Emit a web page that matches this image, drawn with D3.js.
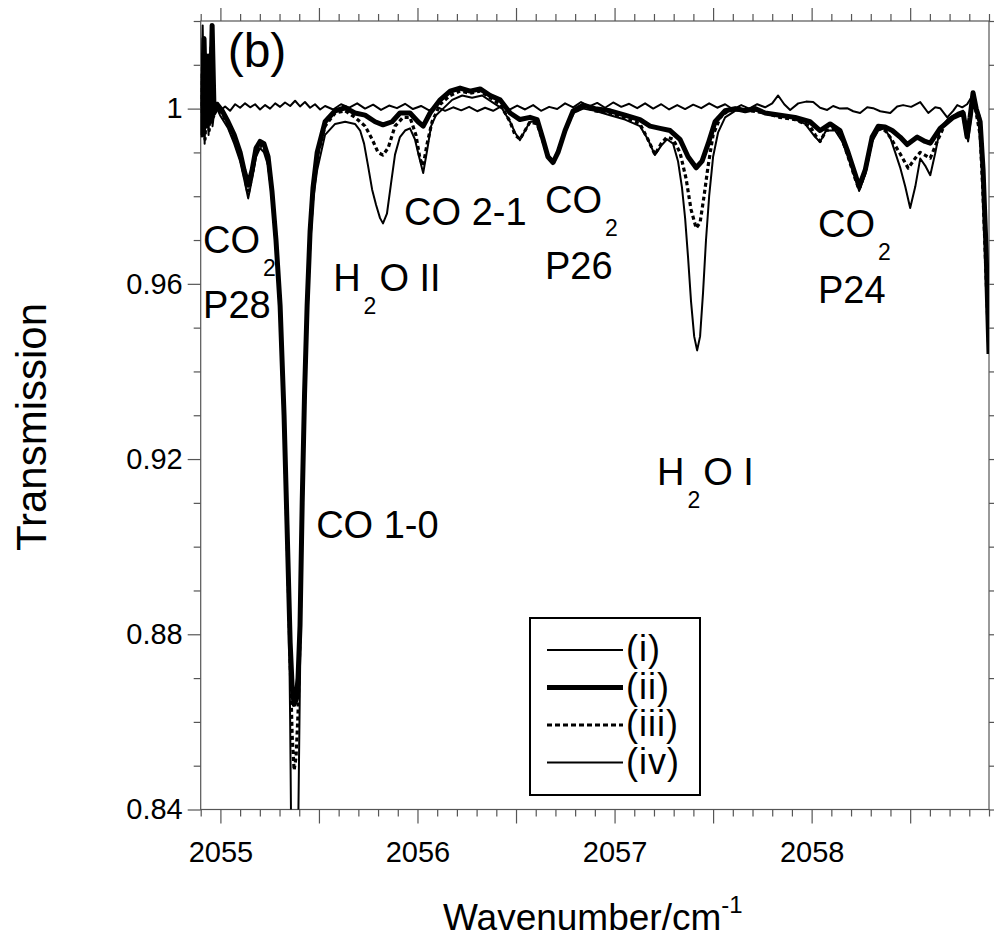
<!DOCTYPE html>
<html>
<head>
<meta charset="utf-8">
<script src="https://cdn.jsdelivr.net/npm/d3@7"></script>
<style>
body { margin: 0; background: #fff; }
text { font-family: "Liberation Sans", Arial, Helvetica, sans-serif; fill: #000; }
</style>
</head>
<body>
<svg id="chart"></svg>
<script>
// [wavenumber / cm-1, transmission]
let curveI = [
  [2054.900, 1.000], [2054.907, 1.010], [2054.914, 0.996], [2054.925, 1.004], [2054.935, 0.997],
  [2054.948, 1.003], [2054.963, 1.000], [2054.978, 1.001], [2054.998, 0.9995], [2055.024, 1.0005],
  [2055.049, 0.9995], [2055.075, 1.001], [2055.100, 1.0002], [2055.125, 1.0012], [2055.151, 1.0003],
  [2055.176, 1.001], [2055.201, 0.9998], [2055.227, 1.0008], [2055.252, 1.0000], [2055.278, 1.0012],
  [2055.303, 1.0004], [2055.328, 1.0014], [2055.354, 1.0006], [2055.379, 1.0018], [2055.404, 1.0005],
  [2055.429, 1.0015], [2055.455, 1.0002], [2055.480, 1.001], [2055.506, 0.9998], [2055.531, 1.0006],
  [2055.572, 0.9998], [2055.612, 1.0010], [2055.654, 1.0002], [2055.694, 1.0012], [2055.734, 1.0000],
  [2055.775, 1.0009], [2055.815, 0.9997], [2055.856, 1.0007], [2055.896, 1.0001], [2055.937, 1.0011],
  [2055.977, 0.9999], [2056.018, 1.0006], [2056.059, 0.9996], [2056.099, 1.0004], [2056.140, 0.9995],
  [2056.181, 1.0003], [2056.222, 0.9996], [2056.262, 1.0004], [2056.303, 0.9994], [2056.343, 1.0002],
  [2056.384, 0.9995], [2056.424, 1.0005], [2056.465, 0.9997], [2056.506, 1.0007], [2056.546, 0.9998],
  [2056.587, 1.0008], [2056.627, 0.9995], [2056.668, 1.0004], [2056.709, 0.9999], [2056.749, 1.0012],
  [2056.790, 1.0003], [2056.830, 1.0015], [2056.871, 1.0005], [2056.912, 1.0013], [2056.952, 1.0002],
  [2056.993, 1.0014], [2057.034, 1.0004], [2057.074, 1.0011], [2057.115, 1.0001], [2057.155, 1.0012],
  [2057.196, 1.0000], [2057.237, 1.0010], [2057.277, 0.9998], [2057.318, 1.0008], [2057.358, 0.9999],
  [2057.399, 1.0009], [2057.440, 1.0001], [2057.480, 1.0012], [2057.521, 1.0002], [2057.561, 1.0010],
  [2057.602, 0.9998], [2057.643, 1.0008], [2057.683, 1.0000], [2057.724, 1.0010], [2057.764, 1.0003],
  [2057.800, 1.0012], [2057.830, 1.0030], [2057.861, 1.0010], [2057.891, 0.9997], [2057.932, 1.0012],
  [2057.972, 1.0016], [2058.008, 1.0015], [2058.043, 1.0002], [2058.079, 0.9997], [2058.109, 1.0006],
  [2058.144, 1.0000], [2058.180, 1.0001], [2058.211, 0.9994], [2058.246, 0.9990], [2058.282, 1.0003],
  [2058.312, 1.0001], [2058.348, 0.9994], [2058.399, 0.9990], [2058.434, 1.0005], [2058.464, 1.0008],
  [2058.505, 1.0004], [2058.551, 1.0015], [2058.592, 0.9990], [2058.627, 1.0003], [2058.652, 1.0001],
  [2058.688, 0.9980], [2058.718, 0.9995], [2058.739, 1.0008], [2058.764, 1.0003], [2058.789, 1.0010],
  [2058.814, 1.0028], [2058.835, 1.0005], [2058.855, 0.998], [2058.870, 0.988], [2058.885, 0.970],
  [2058.900, 0.948]
];

let curveII = [
  [2054.900, 1.008], [2054.907, 0.994], [2054.917, 1.016], [2054.927, 0.996], [2054.938, 1.012],
  [2054.948, 0.997], [2054.958, 1.019], [2054.968, 0.999], [2054.983, 1.001], [2055.009, 0.9995],
  [2055.039, 0.997], [2055.070, 0.994], [2055.100, 0.990], [2055.120, 0.986], [2055.141, 0.9825],
  [2055.161, 0.986], [2055.181, 0.991], [2055.201, 0.9925], [2055.221, 0.992], [2055.242, 0.989],
  [2055.262, 0.981], [2055.282, 0.970], [2055.303, 0.955], [2055.323, 0.930], [2055.338, 0.905],
  [2055.354, 0.878], [2055.364, 0.868], [2055.374, 0.864], [2055.384, 0.865], [2055.394, 0.870],
  [2055.404, 0.882], [2055.415, 0.910], [2055.427, 0.935], [2055.440, 0.955], [2055.455, 0.972],
  [2055.470, 0.982], [2055.491, 0.990], [2055.531, 0.997], [2055.582, 0.9995], [2055.633, 1.0002],
  [2055.683, 0.999], [2055.734, 0.9985], [2055.785, 0.997], [2055.825, 0.9963], [2055.871, 0.997],
  [2055.911, 0.999], [2055.962, 0.999], [2056.003, 0.997], [2056.029, 0.996], [2056.064, 0.999],
  [2056.115, 1.002], [2056.166, 1.004], [2056.216, 1.0047], [2056.267, 1.004], [2056.318, 1.0045],
  [2056.369, 1.003], [2056.419, 1.002], [2056.470, 0.999], [2056.520, 0.9975], [2056.571, 0.998],
  [2056.607, 0.9975], [2056.637, 0.993], [2056.662, 0.989], [2056.688, 0.9877], [2056.713, 0.990],
  [2056.749, 0.995], [2056.790, 0.9995], [2056.841, 1.0008], [2056.901, 1.000], [2056.977, 0.9995],
  [2057.053, 0.9985], [2057.129, 0.9975], [2057.180, 0.996], [2057.231, 0.9955], [2057.282, 0.995],
  [2057.332, 0.993], [2057.373, 0.989], [2057.414, 0.9865], [2057.444, 0.988], [2057.475, 0.992],
  [2057.510, 0.997], [2057.561, 0.9995], [2057.612, 1.000], [2057.663, 0.9995], [2057.713, 1.000],
  [2057.764, 0.999], [2057.840, 0.9985], [2057.916, 0.998], [2057.992, 0.997], [2058.043, 0.995],
  [2058.094, 0.9965], [2058.144, 0.995], [2058.185, 0.990], [2058.221, 0.985], [2058.241, 0.9822],
  [2058.272, 0.986], [2058.307, 0.9935], [2058.338, 0.996], [2058.373, 0.9958], [2058.409, 0.995],
  [2058.449, 0.9935], [2058.485, 0.9918], [2058.536, 0.9935], [2058.576, 0.9925], [2058.602, 0.9921],
  [2058.652, 0.9955], [2058.718, 0.998], [2058.769, 0.999], [2058.789, 0.9935], [2058.804, 0.998],
  [2058.819, 1.0036], [2058.835, 1.000], [2058.855, 0.997], [2058.870, 0.986], [2058.885, 0.968],
  [2058.900, 0.944]
];

let curveIII = [
  [2054.900, 0.999], [2054.912, 1.013], [2054.922, 0.993], [2054.933, 1.006], [2054.943, 0.995],
  [2054.953, 1.010], [2054.963, 0.998], [2054.983, 1.000], [2055.009, 0.999], [2055.039, 0.996],
  [2055.070, 0.993], [2055.100, 0.989], [2055.120, 0.985], [2055.141, 0.9805], [2055.161, 0.985],
  [2055.181, 0.990], [2055.201, 0.9918], [2055.221, 0.991], [2055.242, 0.988], [2055.262, 0.9805],
  [2055.282, 0.9695], [2055.303, 0.9545], [2055.323, 0.929], [2055.338, 0.903], [2055.354, 0.874],
  [2055.364, 0.857], [2055.374, 0.849], [2055.384, 0.852], [2055.394, 0.862], [2055.404, 0.880],
  [2055.415, 0.909], [2055.427, 0.934], [2055.440, 0.954], [2055.455, 0.971], [2055.470, 0.981],
  [2055.491, 0.989], [2055.531, 0.996], [2055.582, 0.999], [2055.633, 0.9995], [2055.683, 0.998],
  [2055.734, 0.996], [2055.770, 0.993], [2055.800, 0.990], [2055.825, 0.9894], [2055.851, 0.991],
  [2055.886, 0.996], [2055.927, 0.998], [2055.962, 0.998], [2055.992, 0.994], [2056.013, 0.9885],
  [2056.029, 0.987], [2056.049, 0.992], [2056.074, 0.997], [2056.115, 1.001], [2056.166, 1.003],
  [2056.216, 1.004], [2056.267, 1.0035], [2056.318, 1.004], [2056.369, 1.0025], [2056.419, 1.001],
  [2056.470, 0.997], [2056.495, 0.994], [2056.520, 0.993], [2056.546, 0.995], [2056.571, 0.997],
  [2056.607, 0.9965], [2056.637, 0.9925], [2056.662, 0.989], [2056.688, 0.9875], [2056.713, 0.990],
  [2056.749, 0.995], [2056.790, 0.999], [2056.841, 1.0005], [2056.901, 0.9995], [2056.977, 0.999],
  [2057.053, 0.998], [2057.129, 0.9965], [2057.169, 0.993], [2057.205, 0.9895], [2057.236, 0.992],
  [2057.266, 0.9935], [2057.297, 0.993], [2057.332, 0.990], [2057.363, 0.984], [2057.388, 0.977],
  [2057.414, 0.9727], [2057.434, 0.974], [2057.454, 0.980], [2057.475, 0.987], [2057.500, 0.994],
  [2057.536, 0.998], [2057.576, 0.9995], [2057.627, 1.000], [2057.688, 0.9995], [2057.764, 0.999],
  [2057.840, 0.998], [2057.916, 0.9975], [2057.992, 0.996], [2058.018, 0.994], [2058.043, 0.9925],
  [2058.073, 0.995], [2058.119, 0.9955], [2058.155, 0.993], [2058.185, 0.989], [2058.221, 0.984],
  [2058.241, 0.9815], [2058.272, 0.9855], [2058.307, 0.993], [2058.338, 0.9955], [2058.373, 0.995],
  [2058.398, 0.9935], [2058.449, 0.9897], [2058.490, 0.9864], [2058.526, 0.9887], [2058.551, 0.990],
  [2058.602, 0.9887], [2058.637, 0.9925], [2058.678, 0.9966], [2058.739, 0.9985], [2058.769, 0.9985],
  [2058.789, 0.993], [2058.804, 0.998], [2058.819, 1.003], [2058.835, 0.999], [2058.855, 0.994],
  [2058.870, 0.980], [2058.885, 0.962], [2058.900, 0.944]
];

let curveIV = [
  [2054.900, 0.994], [2054.910, 1.019], [2054.920, 0.992], [2054.930, 1.009], [2054.940, 0.994],
  [2054.950, 1.014], [2054.960, 0.996], [2054.973, 1.001], [2054.998, 0.9985], [2055.039, 0.9955],
  [2055.070, 0.992], [2055.100, 0.988], [2055.120, 0.984], [2055.141, 0.9795], [2055.161, 0.984],
  [2055.181, 0.989], [2055.201, 0.991], [2055.221, 0.990], [2055.242, 0.987], [2055.262, 0.980],
  [2055.282, 0.969], [2055.303, 0.954], [2055.318, 0.937], [2055.337, 0.910], [2055.346, 0.890],
  [2055.354, 0.860], [2055.361, 0.825], [2055.376, 0.800], [2055.392, 0.825], [2055.399, 0.852],
  [2055.407, 0.882], [2055.415, 0.910], [2055.427, 0.935], [2055.440, 0.954], [2055.455, 0.968],
  [2055.470, 0.979], [2055.491, 0.986], [2055.531, 0.994], [2055.582, 0.9965], [2055.633, 0.997],
  [2055.683, 0.9965], [2055.709, 0.995], [2055.729, 0.992], [2055.749, 0.987], [2055.770, 0.9815],
  [2055.790, 0.978], [2055.810, 0.975], [2055.825, 0.9738], [2055.845, 0.976], [2055.866, 0.983],
  [2055.886, 0.9895], [2055.911, 0.9935], [2055.937, 0.995], [2055.962, 0.9955], [2055.987, 0.993],
  [2056.008, 0.989], [2056.029, 0.9853], [2056.049, 0.9905], [2056.069, 0.996], [2056.094, 0.9985],
  [2056.130, 1.000], [2056.176, 1.002], [2056.227, 1.003], [2056.277, 1.0025], [2056.328, 1.003],
  [2056.379, 1.0015], [2056.430, 1.000], [2056.470, 0.997], [2056.495, 0.9945], [2056.520, 0.9928],
  [2056.546, 0.995], [2056.571, 0.997], [2056.607, 0.997], [2056.637, 0.993], [2056.662, 0.9895],
  [2056.688, 0.988], [2056.713, 0.9905], [2056.749, 0.995], [2056.790, 0.999], [2056.841, 1.000],
  [2056.901, 0.9995], [2056.977, 0.9985], [2057.053, 0.9975], [2057.129, 0.996], [2057.169, 0.993],
  [2057.205, 0.9894], [2057.236, 0.9915], [2057.266, 0.993], [2057.297, 0.992], [2057.322, 0.988],
  [2057.342, 0.982], [2057.358, 0.975], [2057.373, 0.966], [2057.388, 0.956], [2057.404, 0.948],
  [2057.419, 0.9448], [2057.434, 0.948], [2057.449, 0.958], [2057.464, 0.970], [2057.480, 0.980],
  [2057.500, 0.989], [2057.525, 0.9945], [2057.561, 0.998], [2057.612, 0.9995], [2057.678, 0.9995],
  [2057.739, 0.9995], [2057.815, 0.9985], [2057.891, 0.998], [2057.967, 0.9965], [2058.018, 0.9935],
  [2058.043, 0.9924], [2058.073, 0.995], [2058.119, 0.995], [2058.155, 0.9925], [2058.185, 0.989],
  [2058.221, 0.9845], [2058.241, 0.9812], [2058.272, 0.985], [2058.307, 0.9925], [2058.338, 0.995],
  [2058.368, 0.9955], [2058.398, 0.9935], [2058.424, 0.990], [2058.449, 0.9866], [2058.475, 0.9822],
  [2058.500, 0.9773], [2058.526, 0.9822], [2058.551, 0.9886], [2058.576, 0.987], [2058.602, 0.9848],
  [2058.627, 0.9898], [2058.652, 0.9955], [2058.693, 0.9977], [2058.739, 0.999], [2058.769, 0.9995],
  [2058.784, 0.996], [2058.794, 0.9925], [2058.809, 0.998], [2058.819, 1.002], [2058.835, 1.000],
  [2058.855, 0.996], [2058.870, 0.983], [2058.885, 0.965], [2058.900, 0.946]
];

let legendNames = ["(i)", "(ii)", "(iii)", "(iv)"];
let xTickLabels = [2055, 2056, 2057, 2058];
let yTickLabels = [0.84, 0.88, 0.92, 0.96, 1];

function drawChart() {
  let w = 994, h = 944;
  let left = 200.7, right = 989, top = 21, bottom = 809.5;

  let svg = d3.select("#chart")
    .attr("width", w)
    .attr("height", h);

  let x = d3.scaleLinear().domain([2054.9, 2058.9]).range([left, right]);
  let y = d3.scaleLinear().domain([0.84, 1.02]).range([bottom, top]);

  // tick positions
  let xMajor = d3.range(2055, 2058.91, 0.5);
  let xMinor = d3.range(2054.9, 2058.91, 0.1).filter(v => Math.abs(v * 2 - Math.round(v * 2)) > 0.01);
  let yMinor = d3.range(0.84, 1.0201, 0.01).filter(v => !yTickLabels.some(t => Math.abs(t - v) < 1e-6));

  let fmtX = d => xTickLabels.includes(Math.round(d * 10) / 10) ? d3.format("d")(d) : "";
  let fmtY = d => d === 1 ? "1" : d.toFixed(2);

  function axisGroup(axis, tx, ty) {
    let g = svg.append("g").attr("transform", `translate(${tx},${ty})`).call(axis);
    g.select(".domain").remove();
    g.selectAll("line").attr("stroke", "#555").attr("stroke-width", 1.2);
    return g;
  }

  // bottom
  axisGroup(d3.axisBottom(x).tickValues(xMinor).tickSize(7).tickFormat(""), 0, bottom);
  let bx = axisGroup(d3.axisBottom(x).tickValues(xMajor).tickSize(14).tickFormat(fmtX).tickPadding(18), 0, bottom);
  bx.selectAll("text").attr("font-size", 29).attr("font-family", "Liberation Sans, Arial, sans-serif").attr("fill", "#000");
  // top
  axisGroup(d3.axisTop(x).tickValues(xMinor).tickSize(7).tickFormat(""), 0, top);
  axisGroup(d3.axisTop(x).tickValues(xMajor).tickSize(13).tickFormat(""), 0, top);
  // left
  axisGroup(d3.axisLeft(y).tickValues(yMinor).tickSize(7).tickFormat(""), left, 0);
  let ly = axisGroup(d3.axisLeft(y).tickValues(yTickLabels).tickSize(13).tickFormat(fmtY).tickPadding(5), left, 0);
  ly.selectAll("text").attr("font-size", 29).attr("font-family", "Liberation Sans, Arial, sans-serif").attr("fill", "#000");
  // right
  axisGroup(d3.axisRight(y).tickValues(yMinor).tickSize(7).tickFormat(""), right, 0);
  axisGroup(d3.axisRight(y).tickValues(yTickLabels).tickSize(13).tickFormat(""), right, 0);

  // frame
  svg.append("rect")
    .attr("x", left).attr("y", top)
    .attr("width", right - left).attr("height", bottom - top)
    .attr("fill", "none").attr("stroke", "#555").attr("stroke-width", 1.2);

  svg.append("clipPath").attr("id", "plotClip")
    .append("rect")
    .attr("x", left).attr("y", top)
    .attr("width", right - left).attr("height", bottom - top);

  let line = d3.line().x(d => x(d[0])).y(d => y(d[1]));

  let styles = [
    { data: curveIV, width: 2, dash: null },
    { data: curveIII, width: 3.2, dash: "4,3" },
    { data: curveI, width: 2, dash: null },
    { data: curveII, width: 5, dash: null }
  ];

  let plot = svg.append("g").attr("clip-path", "url(#plotClip)");
  plot.selectAll("path.curve")
    .data(styles)
    .enter()
    .append("path")
    .attr("class", "curve")
    .attr("d", d => line(d.data))
    .attr("fill", "none")
    .attr("stroke", "#000")
    .attr("stroke-width", d => d.width)
    .attr("stroke-dasharray", d => d.dash)
    .attr("stroke-linejoin", "round");

  // panel tag
  svg.append("text").attr("x", left + 27).attr("y", top + 46)
    .attr("font-size", 48).text("(b)");

  // band labels, placed in data coordinates
  function label(wn, t, main, sub, rest) {
    let txt = svg.append("text")
      .attr("x", x(wn)).attr("y", y(t))
      .attr("font-size", 38);
    txt.append("tspan").text(main);
    if (sub) {
      txt.append("tspan").attr("dx", 3).attr("dy", 23).attr("font-size", 23).text(sub);
      if (rest) txt.append("tspan").attr("dx", 3).attr("dy", -23).text(rest);
    }
  }
  label(2054.912, 0.9670, "CO", "2");
  label(2054.912, 0.9522, "P28");
  label(2055.572, 0.9584, "H", "2", "O II");
  label(2055.932, 0.9734, "CO 2-1");
  label(2056.647, 0.9762, "CO", "2");
  label(2056.647, 0.9611, "P26");
  label(2057.215, 0.9141, "H", "2", "O I");
  label(2058.032, 0.9707, "CO", "2");
  label(2058.032, 0.9556, "P24");
  label(2055.486, 0.9020, "CO 1-0");

  // axis titles
  let xt = svg.append("text").attr("x", 443).attr("y", 930).attr("font-size", 37);
  xt.append("tspan").text("Wavenumber/cm");
  xt.append("tspan").attr("dy", -17).attr("font-size", 24).text("-1");

  svg.append("text")
    .attr("transform", "translate(46,427) rotate(-90)")
    .attr("text-anchor", "middle")
    .attr("font-size", 42)
    .text("Transmission");

  // legend
  let lg = svg.append("g");
  lg.append("rect").attr("x", 530).attr("y", 618).attr("width", 170).attr("height", 177)
    .attr("fill", "#fff").attr("stroke", "#000").attr("stroke-width", 2);
  let legendStyles = [
    { width: 2, dash: null },
    { width: 5, dash: null },
    { width: 3.2, dash: "5,3" },
    { width: 2, dash: null }
  ];
  legendNames.forEach((name, i) => {
    let ry = 650 + i * 37.5;
    lg.append("line").attr("x1", 547).attr("x2", 623).attr("y1", ry).attr("y2", ry)
      .attr("stroke", "#000").attr("stroke-width", legendStyles[i].width)
      .attr("stroke-dasharray", legendStyles[i].dash);
    lg.append("text").attr("x", 626).attr("y", ry + 11).attr("font-size", 36)
      .attr("letter-spacing", 1).text(name);
  });
}

window.onload = function() {
  drawChart();
}
</script>
</body>
</html>
